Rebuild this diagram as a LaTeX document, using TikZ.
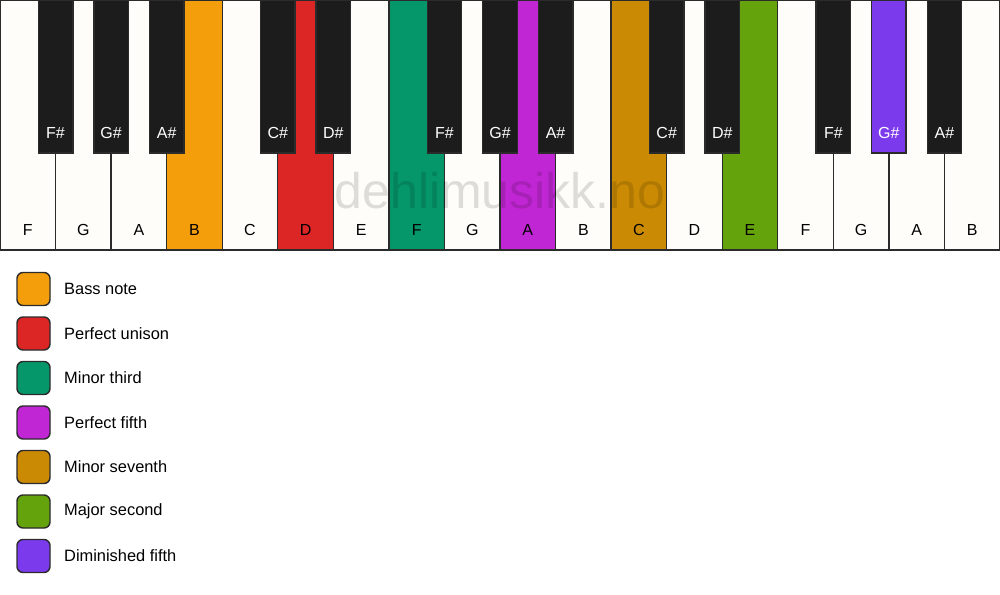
\documentclass[tikz,border=0pt]{standalone}
\usepackage{fontspec}
\setmainfont{Liberation Sans}
\usepackage{xcolor}
\usepackage{tikz}
\usetikzlibrary{positioning}

\definecolor{keywhite}{HTML}{FFFDF9}
\definecolor{keyblack}{HTML}{1C1C1C}
\definecolor{keyline}{HTML}{2B2B2B}
\definecolor{bassnote}{HTML}{F59E0B}
\definecolor{unison}{HTML}{DC2626}
\definecolor{minthird}{HTML}{059669}
\definecolor{perffifth}{HTML}{C026D3}
\definecolor{minseventh}{HTML}{CA8A04}
\definecolor{majsecond}{HTML}{65A30D}
\definecolor{dimfifth}{HTML}{7C3AED}

\begin{document}
\begin{tikzpicture}[x=1pt, y=1pt,
    whitekey/.style={draw=keyline, line width=1.4pt, minimum width=55.556pt, minimum height=250pt, anchor=north west, inner sep=0pt, outer sep=0pt},
    blackkey/.style={draw=keyline, line width=1.4pt, minimum width=34.5pt, minimum height=153pt, anchor=north, inner sep=0pt, outer sep=0pt},
    keylabel/.style={anchor=base, yshift=15pt, inner sep=0pt, font=\fontsize{16}{19}\selectfont},
    legendbox/.style={draw=keyline, line width=1.4pt, rounded corners=6pt, minimum size=33pt, inner sep=0pt, outer sep=0pt},
    legendtext/.style={inner sep=0pt, font=\fontsize{16.4}{19}\selectfont}]
        \useasboundingbox (0,0) rectangle (1000,-594);

        % white keys
        \foreach \n/\name/\col in {0/F/keywhite, 1/G/keywhite, 2/A/keywhite, 3/B/bassnote, 4/C/keywhite, 5/D/unison,
                6/E/keywhite, 7/F/minthird, 8/G/keywhite, 9/A/perffifth, 10/B/keywhite, 11/C/minseventh,
                12/D/keywhite, 13/E/majsecond, 14/F/keywhite, 15/G/keywhite, 16/A/keywhite, 17/B/keywhite}
            \node[whitekey, fill=\col, label={[keylabel]south:\name}] (W\n) at (\n*55.556, 0) {};

        \node[text=black, text opacity=0.13, anchor=base, inner sep=0pt, font=\fontsize{50}{58}\selectfont] (mark) at (500,-208) {dehlimusikk.no};

        % black keys
        \foreach \n/\name/\col in {0/F/keyblack, 1/G/keyblack, 2/A/keyblack, 4/C/keyblack, 5/D/keyblack, 7/F/keyblack,
                8/G/keyblack, 9/A/keyblack, 11/C/keyblack, 12/D/keyblack, 14/F/keyblack, 15/G/dimfifth, 16/A/keyblack}
            \node[blackkey, fill=\col, label={[keylabel, text=white]south:\name\#}] (B\n) at (W\n.north east) {};

        % legend
        \node[legendbox, fill=bassnote] (L1) at (33.5,-289) {};
        \node[legendbox, fill=unison, below=11.5pt of L1] (L2) {};
        \node[legendbox, fill=minthird, below=11.5pt of L2] (L3) {};
        \node[legendbox, fill=perffifth, below=11.5pt of L3] (L4) {};
        \node[legendbox, fill=minseventh, below=11.5pt of L4] (L5) {};
        \node[legendbox, fill=majsecond, below=11.5pt of L5] (L6) {};
        \node[legendbox, fill=dimfifth, below=11.5pt of L6] (L7) {};

        \node[legendtext, right=14pt of L1] (T1) {Bass note};
        \node[legendtext, right=14pt of L2] (T2) {Perfect unison};
        \node[legendtext, right=14pt of L3] (T3) {Minor third};
        \node[legendtext, right=14pt of L4] (T4) {Perfect fifth};
        \node[legendtext, right=14pt of L5] (T5) {Minor seventh};
        \node[legendtext, right=14pt of L6] (T6) {Major second};
        \node[legendtext, right=14pt of L7] (T7) {Diminished fifth};
    \end{tikzpicture}
\end{document}
